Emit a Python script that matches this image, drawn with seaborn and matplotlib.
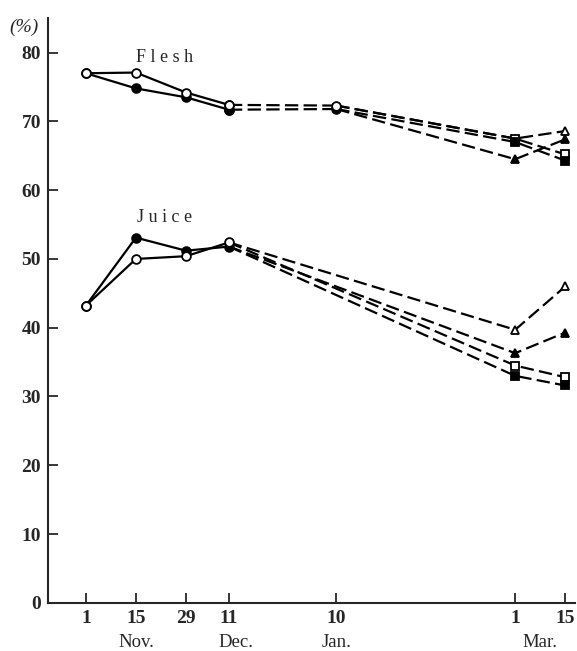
import pandas as pd
import matplotlib
matplotlib.use("Agg")
import matplotlib.pyplot as plt
import matplotlib.transforms as mtransforms
import seaborn as sns

sns.set_style("ticks")
plt.rcParams["font.family"] = ["Liberation Serif", "DejaVu Serif"]

# days counted from 1 Nov
early_days = [0, 14, 28, 40]
flesh_open_early = [77.0, 77.1, 74.2, 72.4]
flesh_filled_early = [77.0, 74.8, 73.5, 71.7]
juice_open_early = [43.2, 50.0, 50.4, 52.4]
juice_filled_early = [43.2, 53.1, 51.2, 51.8]

# flesh: dashed continuation of the circles to 10 Jan
flesh_jan_days = [40, 70]
flesh_open_jan = [72.4, 72.3]
flesh_filled_jan = [71.7, 71.8]

# late treatments (10 Jan / 11 Dec -> 1 Mar -> 15 Mar)
late_days_flesh = [70, 120, 134]
late_days_juice = [40, 120, 134]
treatments = ["open_tri", "filled_tri", "open_sq", "filled_sq"]
flesh_late = {
    "open_tri": [72.3, 67.5, 68.6],
    "filled_tri": [71.8, 64.5, 67.4],
    "open_sq": [72.3, 67.5, 65.2],
    "filled_sq": [71.8, 67.0, 64.3],
}
juice_late = {
    "open_tri": [52.4, 39.7, 46.0],
    "filled_tri": [51.8, 36.3, 39.3],
    "open_sq": [52.4, 34.5, 32.8],
    "filled_sq": [51.8, 33.0, 31.6],
}

tick_days = [0, 14, 28, 40, 70, 120, 134]
tick_labels = ["1", "15", "29", "11", "10", "1", "15"]
month_days = [14, 42, 70, 127]
month_labels = ["Nov.", "Dec.", "Jan.", "Mar."]

marker_style = {
    "open_circ": ("o", "white"),
    "filled_circ": ("o", "black"),
    "open_tri": ("^", "white"),
    "filled_tri": ("^", "black"),
    "open_sq": ("s", "white"),
    "filled_sq": ("s", "black"),
}

fig = plt.figure(figsize=(5.77, 6.51), dpi=100)
ax = fig.add_axes([0.083, 0.074, 0.914, 0.898])


def draw(days, vals, key, dashed, skip_first=False):
    mk, face = marker_style[key]
    df = pd.DataFrame({"day": days, "val": vals})
    line = sns.lineplot(data=df, x="day", y="val", ax=ax, color="black",
                        lw=1.6, sort=False, estimator=None)
    ln = line.lines[-1]
    if dashed:
        ln.set_dashes((6, 2.4))
    pts = df.iloc[1:] if skip_first else df
    size = 6.3 if mk == "o" else 5.5
    ax.plot(pts["day"], pts["val"], ls="none", marker=mk, ms=size,
            mfc=face, mec="black", mew=1.3, zorder=5)


# late dashed lines first so circles sit on top
for t in treatments:
    draw(late_days_flesh, flesh_late[t], t, True, skip_first=True)
    draw(late_days_juice, juice_late[t], t, True, skip_first=True)

draw(flesh_jan_days, flesh_filled_jan, "filled_circ", True)
draw(flesh_jan_days, flesh_open_jan, "open_circ", True)
draw(early_days, flesh_filled_early, "filled_circ", False)
draw(early_days, flesh_open_early, "open_circ", False)
draw(early_days, juice_filled_early, "filled_circ", False)
draw(early_days, juice_open_early, "open_circ", False)

ax.set_xlim(-10.6, 136.8)
ax.set_ylim(0, 85)
ax.set_xticks(tick_days)
ax.set_xticklabels(tick_labels)
ax.set_yticks(range(0, 81, 10))
ax.tick_params(direction="in", length=7, width=1.3, labelsize=14, pad=5)
for lab in ax.get_xticklabels() + ax.get_yticklabels():
    lab.set_fontweight("bold")
ax.set_xlabel("")
ax.set_ylabel("")
sns.despine(ax=ax)
for s in ["left", "bottom"]:
    ax.spines[s].set_linewidth(1.5)

trans = mtransforms.blended_transform_factory(ax.transData, ax.transAxes)
for d, m in zip(month_days, month_labels):
    ax.text(d, -0.068, m, transform=trans, ha="center", va="center",
            fontsize=13.5)

ax.text(22, 79.3, "F l e s h", ha="center", va="center", fontsize=13)
ax.text(22, 56.0, "J u i c e", ha="center", va="center", fontsize=13)
ax.text(-0.045, 0.985, "(%)", transform=ax.transAxes, ha="center",
        va="center", fontsize=14, style="italic")

fig.savefig("out.png", dpi=100)
